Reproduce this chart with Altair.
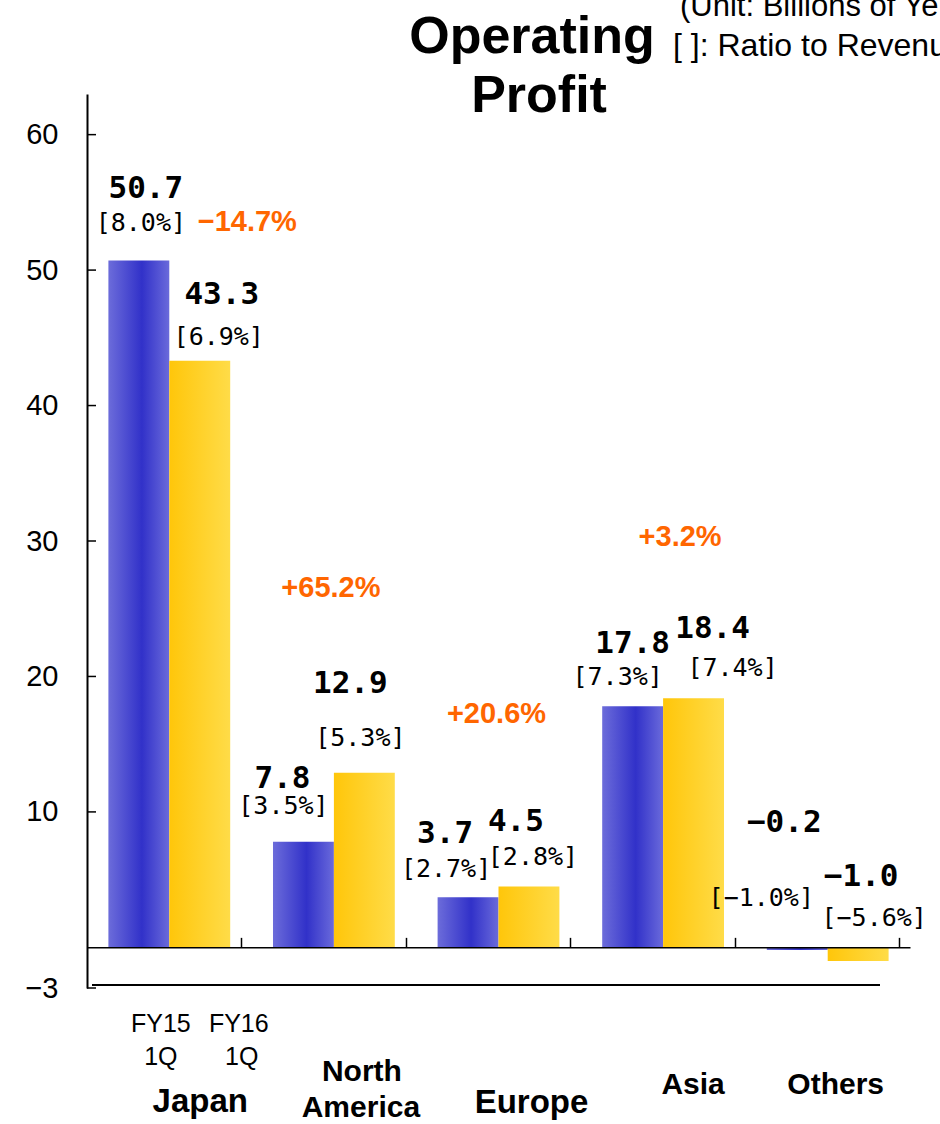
import altair as alt
import pandas as pd

# ---- data -------------------------------------------------------------
regions = ["Japan", "North America", "Europe", "Asia", "Others"]
periods = ["FY15 1Q", "FY16 1Q"]
fy15_profit = [50.7, 7.8, 3.7, 17.8, -0.2]
fy16_profit = [43.3, 12.9, 4.5, 18.4, -1.0]
fy15_ratio = ["8.0%", "3.5%", "2.7%", "7.3%", "−1.0%"]
fy16_ratio = ["6.9%", "5.3%", "2.8%", "7.4%", "−5.6%"]
yoy_change = ["−14.7%", "+65.2%", "+20.6%", "+3.2%", ""]
y_ticks = [60, 50, 40, 30, 20, 10, -3]

# ---- layout (pixel nudges, kept apart from the data) -------------------
# (dx, dy) of the value label and of the ratio label, measured from the bar end
value_nudge = {
    ("Japan", "FY15 1Q"): (7, -72), ("Japan", "FY16 1Q"): (22, -66),
    ("North America", "FY15 1Q"): (-21, -63), ("North America", "FY16 1Q"): (-14, -89),
    ("Europe", "FY15 1Q"): (-23, -63), ("Europe", "FY16 1Q"): (-13, -64),
    ("Asia", "FY15 1Q"): (0, -62), ("Asia", "FY16 1Q"): (19, -69),
    ("Others", "FY15 1Q"): (-13, -127), ("Others", "FY16 1Q"): (3, -84),
}
ratio_nudge = {
    ("Japan", "FY15 1Q"): (2, -38), ("Japan", "FY16 1Q"): (19, -24),
    ("North America", "FY15 1Q"): (-20, -36), ("North America", "FY16 1Q"): (-4, -35),
    ("Europe", "FY15 1Q"): (-22, -28), ("Europe", "FY16 1Q"): (4, -29),
    ("Asia", "FY15 1Q"): (-15, -29), ("Asia", "FY16 1Q"): (39, -30),
    ("Others", "FY15 1Q"): (-36, -52), ("Others", "FY16 1Q"): (16, -43),
}
# year-on-year change label, measured from the FY16 bar end at the group centre
change_nudge = {
    "Japan": (78, -139), "North America": (-3, -185),
    "Europe": (-2, -172), "Asia": (17, -161),
}
# captions under the plot: (text, region, period or None, dx, page y, size, weight)
captions = [
    ("FY15", "Japan", "FY15 1Q", 22, 1024, 25, "normal"),
    ("1Q", "Japan", "FY15 1Q", 22, 1057, 25, "normal"),
    ("FY16", "Japan", "FY16 1Q", 39, 1024, 25, "normal"),
    ("1Q", "Japan", "FY16 1Q", 42, 1057, 25, "normal"),
    ("Japan", "Japan", None, 31, 1102, 33, "bold"),
    ("North", "North America", None, 28, 1072, 30, "bold"),
    ("America", "North America", None, 27, 1108, 30, "bold"),
    ("Europe", "Europe", None, 33, 1103, 33, "bold"),
    ("Asia", "Asia", None, 30, 1085, 30, "bold"),
    ("Others", "Others", None, 8, 1085, 30, "bold"),
]

PLOT_W, PLOT_H = 823, 894
TOP, LEFT = 94, 87
SANS = "Liberation Sans"
MONO = "DejaVu Sans Mono"
ORANGE = "#FF6600"


def fmt(v):
    return f"{v:.1f}".replace("-", "−")


x_scale = alt.Scale(domain=regions, paddingInner=0.26, paddingOuter=0.13)
xo_scale = alt.Scale(domain=periods, paddingInner=0, paddingOuter=0)
y_scale = alt.Scale(domain=[-3, 63], nice=False, zero=False)

# x axis pulled up to the zero line: its domain is the zero line and its
# ticks separate the regions
x_axis = alt.Axis(orient="top", offset=-(PLOT_H * 63 / 66), labels=False,
                  title=None, ticks=True, tickSize=10, tickColor="black",
                  tickWidth=1.5, domainColor="black", domainWidth=1.5,
                  bandPosition=1, tickOffset=10.7, grid=False, zindex=1)
y_axis = alt.Axis(values=y_ticks, ticks=False, grid=False, title=None,
                  labelFont=SANS, labelFontSize=29, labelColor="black",
                  labelPadding=29, domainColor="black", domainWidth=2, zindex=1)

X = alt.X("region:N", scale=x_scale, sort=regions, axis=x_axis)
XO = alt.XOffset("period:N", scale=xo_scale, sort=periods)
Y = alt.Y("value:Q", scale=y_scale, axis=y_axis)

rows = []
for i, r in enumerate(regions):
    rows.append({"region": r, "period": periods[0], "value": fy15_profit[i],
                 "ratio": "[" + fy15_ratio[i] + "]"})
    rows.append({"region": r, "period": periods[1], "value": fy16_profit[i],
                 "ratio": "[" + fy16_ratio[i] + "]"})
bars_df = pd.DataFrame(rows)
bars_df["label"] = bars_df["value"].map(fmt)

blue_fill = alt.Gradient(
    gradient="linear", x1=0, x2=1, y1=0, y2=0,
    stops=[alt.GradientStop(color="#6c6cda", offset=0),
           alt.GradientStop(color="#3131c9", offset=0.55),
           alt.GradientStop(color="#6a6adb", offset=1)],
)
yellow_fill = alt.Gradient(
    gradient="linear", x1=0, x2=1, y1=0, y2=0,
    stops=[alt.GradientStop(color="#FFC60A", offset=0),
           alt.GradientStop(color="#FFDC48", offset=1)],
)

bars15 = alt.Chart(bars_df).transform_filter(
    alt.datum.period == periods[0]
).mark_bar(color=blue_fill).encode(x=X, xOffset=XO, y=Y)
bars16 = alt.Chart(bars_df).transform_filter(
    alt.datum.period == periods[1]
).mark_bar(color=yellow_fill).encode(x=X, xOffset=XO, y=Y)

# inward tick marks on the value axis
ticks_df = pd.DataFrame({"value": y_ticks})
y_tick_marks = alt.Chart(ticks_df).mark_rule(color="black", strokeWidth=1.5).encode(
    y=Y, x=alt.value(0), x2=alt.value(9)
)

one = pd.DataFrame({"k": [0]})
bottom_line = alt.Chart(one).mark_rule(color="black", strokeWidth=2).encode(
    x=alt.value(5), x2=alt.value(793), y=alt.value(891)
)

layers = [bars15, bars16, y_tick_marks, bottom_line]

# value and ratio labels
for _, row in bars_df.iterrows():
    key = (row["region"], row["period"])
    single = pd.DataFrame([row.to_dict()])
    dx, dy = value_nudge[key]
    layers.append(alt.Chart(single).mark_text(
        dx=dx, dy=dy, font=MONO, fontSize=31, fontWeight="bold", color="black",
        align="center", baseline="middle",
    ).encode(x=X, xOffset=XO, y=Y, text="label:N"))
    dx, dy = ratio_nudge[key]
    layers.append(alt.Chart(single).mark_text(
        dx=dx, dy=dy, font=MONO, fontSize=25, color="black",
        align="center", baseline="middle",
    ).encode(x=X, xOffset=XO, y=Y, text="ratio:N"))

# year-on-year change labels
for i, r in enumerate(regions):
    if not yoy_change[i]:
        continue
    dx, dy = change_nudge[r]
    single = pd.DataFrame([{"region": r, "value": fy16_profit[i], "change": yoy_change[i]}])
    layers.append(alt.Chart(single).mark_text(
        dx=dx, dy=dy, font=SANS, fontSize=29, fontWeight="bold", color=ORANGE,
        align="center", baseline="middle",
    ).encode(x=X, y=Y, text="change:N"))

# captions below the plot
for text, r, p, dx, ypix, size, weight in captions:
    rec = {"region": r, "caption": text}
    enc = {"x": X, "y": alt.value(ypix - TOP), "text": "caption:N"}
    if p is not None:
        rec["period"] = p
        enc["xOffset"] = XO
    layers.append(alt.Chart(pd.DataFrame([rec])).mark_text(
        dx=dx, font=SANS, fontSize=size, fontWeight=weight, color="black",
        align="center", baseline="middle",
    ).encode(**enc))

# heading and notes
heading = pd.DataFrame({"t": ["Operating", "Profit"]})
layers.append(alt.Chart(heading).transform_filter(alt.datum.t == "Operating").mark_text(
    font=SANS, fontSize=52, fontWeight="bold", color="black", align="center",
    baseline="middle").encode(x=alt.value(445), y=alt.value(-57), text="t:N"))
layers.append(alt.Chart(heading).transform_filter(alt.datum.t == "Profit").mark_text(
    font=SANS, fontSize=52, fontWeight="bold", color="black", align="center",
    baseline="middle").encode(x=alt.value(452), y=alt.value(2), text="t:N"))

notes = ["(Unit: Billions of Yen)", "[  ]: Ratio to Revenue"]
notes_df = pd.DataFrame({"t": notes})
layers.append(alt.Chart(notes_df).transform_filter(alt.datum.t == notes[0]).mark_text(
    font=SANS, fontSize=31, color="black", align="left", baseline="alphabetic"
).encode(x=alt.value(593), y=alt.value(-78), text="t:N"))
layers.append(alt.Chart(notes_df).transform_filter(alt.datum.t == notes[1]).mark_text(
    font=SANS, fontSize=32, color="black", align="left", baseline="alphabetic"
).encode(x=alt.value(586), y=alt.value(-38), text="t:N"))

chart = alt.layer(*layers).properties(
    width=PLOT_W, height=PLOT_H,
    autosize=alt.AutoSizeParams(type="none"),
    padding={"left": LEFT, "top": TOP, "right": 30, "bottom": 136},
    background="white",
).configure_view(stroke=None)

chart.save("out.html", embed_options={"renderer": "svg", "actions": False})
